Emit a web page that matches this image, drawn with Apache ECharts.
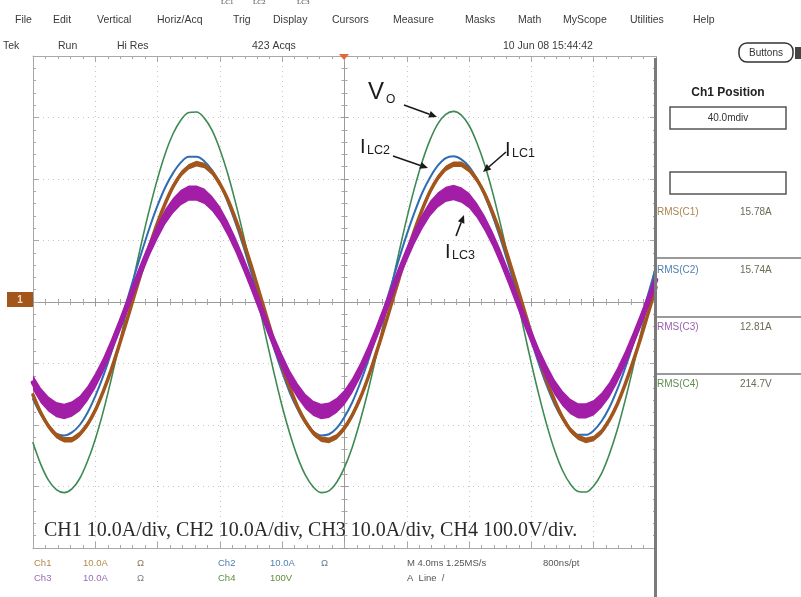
<!DOCTYPE html>
<html>
<head>
<meta charset="utf-8">
<script src="https://cdn.jsdelivr.net/npm/echarts@6/dist/echarts.min.js"></script>
<style>
  html, body { margin: 0; padding: 0; background: #ffffff; }
  #scope { width: 801px; height: 597px; }
</style>
</head>
<body>
<div id="scope"></div>
<script>
// Sample times (ms), trigger at the centre of the screen, 4 ms/div
const timeMs = [
  -20, -19.5, -19, -18.5, -18, -17.5, -17, -16.5, -16, -15.5,
  -15, -14.5, -14, -13.5, -13, -12.5, -12, -11.5, -11, -10.5,
  -10, -9.5, -9, -8.5, -8, -7.5, -7, -6.5, -6, -5.5,
  -5, -4.5, -4, -3.5, -3, -2.5, -2, -1.5, -1, -0.5,
  0, 0.5, 1, 1.5, 2, 2.5, 3, 3.5, 4, 4.5,
  5, 5.5, 6, 6.5, 7, 7.5, 8, 8.5, 9, 9.5,
  10, 10.5, 11, 11.5, 12, 12.5, 13, 13.5, 14, 14.5,
  15, 15.5, 16, 16.5, 17, 17.5, 18, 18.5, 19, 19.5, 20
];

// CH4: output voltage Vo (V)
const vo = [
  -229, -264, -290, -305, -310, -304, -287, -259, -223, -179,
  -128, -73, -15, 43, 100, 153, 201, 242, 274, 296,
  308, 309, 299, 279, 248, 209, 162, 110, 54, -4,
  -62, -118, -170, -215, -253, -282, -301, -310, -307, -293,
  -269, -236, -194, -146, -92, -35, 24, 81, 136, 186,
  229, 264, 290, 305, 310, 304, 287, 259, 223, 179,
  128, 73, 15, -43, -100, -153, -201, -242, -274, -296,
  -308, -309, -299, -279, -248, -209, -162, -110, -54, 4, 62
];

// CH2: inductor current ILC2 (A)
const ilc2 = [
  -15.8, -18.3, -20.2, -21.4, -21.7, -21.2, -20.0, -18.0, -15.3, -12.1,
  -8.4, -4.3, -0.1, 4.2, 8.3, 12.2, 15.7, 18.7, 21.0, 22.7,
  23.6, 23.6, 22.9, 21.4, 19.2, 16.3, 12.9, 9.1, 4.9, 0.7,
  -3.6, -7.7, -11.4, -14.8, -17.5, -19.7, -21.1, -21.7, -21.5, -20.5,
  -18.7, -16.3, -13.2, -9.7, -5.7, -1.5, 2.7, 7.0, 11.0, 14.6,
  17.8, 20.3, 22.2, 23.4, 23.7, 23.2, 22.0, 20.0, 17.3, 14.1,
  10.4, 6.3, 2.1, -2.2, -6.3, -10.2, -13.7, -16.7, -19.0, -20.7,
  -21.6, -21.6, -20.9, -19.4, -17.2, -14.3, -10.9, -7.1, -2.9, 1.3, 5.6
];

// CH1: inductor current ILC1 (A)
const ilc1 = [
  -15.1, -18.0, -20.2, -21.7, -22.4, -22.4, -21.5, -19.9, -17.6, -14.6,
  -11.2, -7.3, -3.2, 1.0, 5.2, 9.2, 12.9, 16.1, 18.8, 20.8,
  22.0, 22.5, 22.2, 21.1, 19.2, 16.7, 13.5, 9.9, 6.0, 1.8,
  -2.4, -6.6, -10.5, -14.0, -17.1, -19.5, -21.3, -22.3, -22.5, -21.9,
  -20.5, -18.4, -15.7, -12.4, -8.6, -4.6, -0.4, 3.8, 7.9, 11.7,
  15.1, 18.0, 20.2, 21.7, 22.4, 22.4, 21.5, 19.9, 17.6, 14.6,
  11.2, 7.3, 3.2, -1.0, -5.2, -9.2, -12.9, -16.1, -18.8, -20.8,
  -22.0, -22.5, -22.2, -21.1, -19.2, -16.7, -13.5, -9.9, -6.0, -1.8, 2.4
];

// CH3: inductor current ILC3 (A)
const ilc3 = [
  -13.1, -15.2, -16.6, -17.5, -17.8, -17.4, -16.5, -14.9, -12.8, -10.3,
  -7.4, -4.2, -0.9, 2.5, 5.7, 8.8, 11.5, 13.9, 15.7, 17.0,
  17.7, 17.7, 17.2, 16.0, 14.3, 12.0, 9.3, 6.3, 3.1, -0.2,
  -3.6, -6.8, -9.7, -12.4, -14.5, -16.2, -17.3, -17.8, -17.6, -16.8,
  -15.5, -13.6, -11.2, -8.4, -5.3, -2.0, 1.4, 4.7, 7.8, 10.7,
  13.1, 15.2, 16.6, 17.5, 17.8, 17.4, 16.5, 14.9, 12.8, 10.3,
  7.4, 4.2, 0.9, -2.5, -5.7, -8.8, -11.5, -13.9, -15.7, -17.0,
  -17.7, -17.7, -17.2, -16.0, -14.3, -12.0, -9.3, -6.3, -3.1, 0.2, 3.6
];

// Switching-ripple half width (A) seen on the thick current traces
const rippleIlc1 = 0.45;
const rippleIlc3 = 1.25;

// Readouts shown by the instrument
const menuItems = ['File', 'Edit', 'Vertical', 'Horiz/Acq', 'Trig', 'Display', 'Cursors',
                   'Measure', 'Masks', 'Math', 'MyScope', 'Utilities', 'Help'];
const rmsLabels = ['RMS(C1)', 'RMS(C2)', 'RMS(C3)', 'RMS(C4)'];
const rmsValues = ['15.78A', '15.74A', '12.81A', '214.7V'];
const caption = 'CH1 10.0A/div, CH2 10.0A/div, CH3 10.0A/div, CH4 100.0V/div.';

const COL = {
  vo: '#3d8a55',
  ilc1: '#a3561c',
  ilc2: '#2e6db3',
  ilc3: '#a21ea6',
  grid: '#c4c4c4',
  frame: '#a8a8a8'
};

const chart = echarts.init(document.getElementById('scope'), null, { renderer: 'canvas' });

function pairs(ys) { return timeMs.map((t, i) => [t, ys[i]]); }

// graticule axis helpers (no labels, ticks only)
function gratX(extra) {
  return Object.assign({
    type: 'value', min: -20, max: 20, interval: 4,
    axisLabel: { show: false },
    axisLine: { show: true, lineStyle: { color: COL.frame, width: 1 } },
    axisTick: { show: true, inside: true, length: 6, lineStyle: { color: COL.frame } },
    minorTick: { show: true, splitNumber: 5, length: 3, lineStyle: { color: COL.frame } },
    splitLine: { show: false },
    minorSplitLine: { show: false }
  }, extra);
}
function gratY(extra) {
  return Object.assign({
    type: 'value', min: -40, max: 40, interval: 10,
    axisLabel: { show: false },
    axisLine: { show: true, lineStyle: { color: COL.frame, width: 1 } },
    axisTick: { show: true, inside: true, length: 6, lineStyle: { color: COL.frame } },
    minorTick: { show: true, splitNumber: 5, length: 3, lineStyle: { color: COL.frame } },
    splitLine: { show: false },
    minorSplitLine: { show: false }
  }, extra);
}

function arrow(x1, y1, x2, y2) {
  const a = Math.atan2(y2 - y1, x2 - x1), L = 8, W = 3.5;
  const bx = x2 - L * Math.cos(a), by = y2 - L * Math.sin(a);
  const px = -Math.sin(a) * W, py = Math.cos(a) * W;
  return [
    { type: 'line', shape: { x1: x1, y1: y1, x2: bx, y2: by }, style: { stroke: '#1a1a1a', lineWidth: 1.6 }, z: 50 },
    { type: 'polygon', shape: { points: [[x2, y2], [bx + px, by + py], [bx - px, by - py]] }, style: { fill: '#1a1a1a' }, z: 50 }
  ];
}

function txt(x, y, s, size, fill, extra) {
  return {
    type: 'text', x: x, y: y, z: 40,
    style: Object.assign({
      text: s, fontSize: size, fontFamily: 'Liberation Sans, Arial, sans-serif',
      fill: fill, textAlign: 'left', textVerticalAlign: 'middle'
    }, extra || {})
  };
}

const menuX = [15, 53, 97, 157, 233, 273, 332, 393, 465, 518, 563, 630, 693];
const graphics = [];

// caption remnant at the very top
graphics.push(txt(221, 2, 'LC1', 7, '#444', { fontFamily: 'Liberation Serif, serif' }));
graphics.push(txt(253, 2, 'LC2', 7, '#444', { fontFamily: 'Liberation Serif, serif' }));
graphics.push(txt(297, 2, 'LC3', 7, '#444', { fontFamily: 'Liberation Serif, serif' }));

// menu bar
menuItems.forEach((m, i) => graphics.push(txt(menuX[i], 20, m, 10.5, '#3a3a3a')));

// status line
graphics.push(txt(3, 46, 'Tek', 10.5, '#3a3a3a'));
graphics.push(txt(58, 46, 'Run', 10.5, '#3a3a3a'));
graphics.push(txt(117, 46, 'Hi Res', 10.5, '#3a3a3a'));
graphics.push(txt(252, 46, '423 Acqs', 10.5, '#3a3a3a'));
graphics.push(txt(503, 46, '10 Jun 08 15:44:42', 10.5, '#3a3a3a'));

// "Buttons" key
graphics.push({ type: 'rect', shape: { x: 739, y: 43, width: 54, height: 19, r: 8 }, style: { fill: '#fff', stroke: '#333', lineWidth: 1.5 }, z: 30 });
graphics.push(txt(766, 53, 'Buttons', 10, '#333', { textAlign: 'center' }));
graphics.push({ type: 'rect', shape: { x: 795, y: 47, width: 6, height: 12 }, style: { fill: '#444' }, z: 30 });

// right-hand panel separator (screen edge)
graphics.push({ type: 'rect', shape: { x: 654, y: 58, width: 3, height: 539 }, style: { fill: '#7a7a7a' }, z: 30 });

// Ch1 Position panel
graphics.push(txt(728, 93, 'Ch1 Position', 12, '#222', { textAlign: 'center', fontWeight: 'bold' }));
graphics.push({ type: 'rect', shape: { x: 670, y: 107, width: 116, height: 22 }, style: { fill: '#fff', stroke: '#555', lineWidth: 1.5 }, z: 30 });
graphics.push(txt(728, 118, '40.0mdiv', 10, '#333', { textAlign: 'center' }));
graphics.push({ type: 'rect', shape: { x: 670, y: 172, width: 116, height: 22 }, style: { fill: '#fff', stroke: '#555', lineWidth: 1.5 }, z: 30 });

// RMS readouts
const rmsY = [212, 270, 327, 384];
const rmsCol = ['#a8874f', '#4f7fb0', '#9a5fae', '#5e8d4c'];
rmsLabels.forEach((l, i) => {
  graphics.push(txt(657, rmsY[i], l, 10, rmsCol[i]));
  graphics.push(txt(740, rmsY[i], rmsValues[i], 10, '#6d6a55'));
});
[258, 317, 374].forEach(y => graphics.push({ type: 'rect', shape: { x: 657, y: y - 1, width: 144, height: 2 }, style: { fill: '#9a9a9a' }, z: 30 }));

// channel 1 ground marker
graphics.push({ type: 'rect', shape: { x: 7, y: 292, width: 26, height: 15 }, style: { fill: COL.ilc1 }, z: 30 });
graphics.push(txt(20, 300, '1', 10, '#f3dcc0', { textAlign: 'center', fontWeight: 'bold' }));

// trigger position marker
graphics.push({ type: 'polygon', shape: { points: [[339, 54], [349, 54], [344, 60]] }, style: { fill: '#e8643a' }, z: 30 });

// channel settings along the bottom
graphics.push(txt(34, 563, 'Ch1', 9.5, '#b48a4a'));
graphics.push(txt(83, 563, '10.0A', 9.5, '#b48a4a'));
graphics.push(txt(137, 563, 'Ω', 9.5, '#8a7a5a'));
graphics.push(txt(34, 578, 'Ch3', 9.5, '#9a6ab8'));
graphics.push(txt(83, 578, '10.0A', 9.5, '#9a6ab8'));
graphics.push(txt(137, 578, 'Ω', 9.5, '#8a7a8a'));
graphics.push(txt(218, 563, 'Ch2', 9.5, '#4f7fb0'));
graphics.push(txt(270, 563, '10.0A', 9.5, '#4f7fb0'));
graphics.push(txt(321, 563, 'Ω', 9.5, '#6a7a8a'));
graphics.push(txt(218, 578, 'Ch4', 9.5, '#5e8d3c'));
graphics.push(txt(270, 578, '100V', 9.5, '#5e8d3c'));
graphics.push(txt(407, 563, 'M 4.0ms 1.25MS/s', 9.5, '#555'));
graphics.push(txt(543, 563, '800ns/pt', 9.5, '#555'));
graphics.push(txt(407, 578, 'A  Line  /', 9.5, '#555'));

// scale caption
graphics.push(txt(44, 531, caption, 20, '#2a2a2a', { fontFamily: 'Liberation Serif, Times New Roman, serif' }));

// trace labels
const labFont = 'Liberation Sans, Arial, sans-serif';
graphics.push(txt(368, 92, 'V', 24, '#1a1a1a', { fontFamily: labFont }));
graphics.push(txt(386, 100, 'O', 12, '#1a1a1a', { fontFamily: labFont }));
graphics.push(txt(360, 147, 'I', 20, '#1a1a1a', { fontFamily: labFont }));
graphics.push(txt(367, 151, 'LC2', 12.5, '#1a1a1a', { fontFamily: labFont }));
graphics.push(txt(505, 150, 'I', 20, '#1a1a1a', { fontFamily: labFont }));
graphics.push(txt(512, 154, 'LC1', 12.5, '#1a1a1a', { fontFamily: labFont }));
graphics.push(txt(445, 252, 'I', 20, '#1a1a1a', { fontFamily: labFont }));
graphics.push(txt(452, 256, 'LC3', 12.5, '#1a1a1a', { fontFamily: labFont }));
graphics.push(...arrow(404, 105, 437, 117));
graphics.push(...arrow(393, 156, 428, 168));
graphics.push(...arrow(506, 152, 483, 172));
graphics.push(...arrow(456, 236, 464, 215));

const trace = (name, ys, color, width, yIdx, z) => ({
  name: name, type: 'line', data: pairs(ys), xAxisIndex: 0, yAxisIndex: yIdx,
  showSymbol: false, smooth: 0.35, silent: true, z: z,
  lineStyle: { color: color, width: width, cap: 'round', join: 'round' }
});

// vertical ripple envelope drawn around a current trace
const band = (name, ys, ripple, color, z) => ({
  name: name + ' ripple', type: 'custom', data: pairs(ys), xAxisIndex: 0, yAxisIndex: 0,
  silent: true, z: z, clip: true,
  renderItem: (params, api) => {
    if (params.dataIndex !== 0) return null;
    const upper = timeMs.map((t, i) => api.coord([t, ys[i] + ripple]));
    const lower = timeMs.map((t, i) => api.coord([t, ys[i] - ripple])).reverse();
    return { type: 'polygon', shape: { points: upper.concat(lower) }, style: { fill: color } };
  }
});

chart.setOption({
  backgroundColor: '#ffffff',
  animation: false,
  grid: { left: 33, top: 56, width: 623, height: 492, containLabel: false },
  xAxis: [
    gratX({ position: 'bottom', axisLine: { show: true, onZero: false, lineStyle: { color: COL.frame } },
            splitLine: { show: true, lineStyle: { color: COL.grid, type: [1, 4], width: 1 } } }),
    gratX({ position: 'top', axisLine: { show: true, onZero: false, lineStyle: { color: COL.frame } } }),
    gratX({ position: 'bottom', axisLine: { show: true, onZero: true, onZeroAxisIndex: 0, lineStyle: { color: '#9a9a9a' } },
            axisTick: { show: true, inside: true, length: 4, lineStyle: { color: '#9a9a9a' } } }),
    gratX({ position: 'bottom', axisLine: { show: true, onZero: true, onZeroAxisIndex: 0, lineStyle: { color: '#9a9a9a' } },
            axisTick: { show: true, inside: false, length: 4, lineStyle: { color: '#9a9a9a' } } })
  ],
  yAxis: [
    gratY({ position: 'left', axisLine: { show: true, onZero: false, lineStyle: { color: COL.frame } },
            splitLine: { show: true, lineStyle: { color: COL.grid, type: [1, 4], width: 1 } } }),
    gratY({ position: 'right', axisLine: { show: false, onZero: false } }),
    gratY({ position: 'left', axisLine: { show: true, onZero: true, onZeroAxisIndex: 0, lineStyle: { color: '#9a9a9a' } },
            axisTick: { show: true, inside: true, length: 4, lineStyle: { color: '#9a9a9a' } } }),
    gratY({ position: 'left', axisLine: { show: true, onZero: true, onZeroAxisIndex: 0, lineStyle: { color: '#9a9a9a' } },
            axisTick: { show: true, inside: false, length: 4, lineStyle: { color: '#9a9a9a' } } }),
    { type: 'value', min: -400, max: 400, interval: 100, show: false, position: 'right' }
  ],
  series: [
    trace('Vo', vo, COL.vo, 1.6, 4, 3),
    trace('ILC2', ilc2, COL.ilc2, 2, 0, 4),
    band('ILC1', ilc1, rippleIlc1, COL.ilc1, 5),
    trace('ILC1', ilc1, COL.ilc1, 3.5, 0, 5),
    band('ILC3', ilc3, rippleIlc3, COL.ilc3, 6),
    trace('ILC3', ilc3, COL.ilc3, 4.5, 0, 6)
  ],
  graphic: { elements: graphics }
});
</script>
</body>
</html>
